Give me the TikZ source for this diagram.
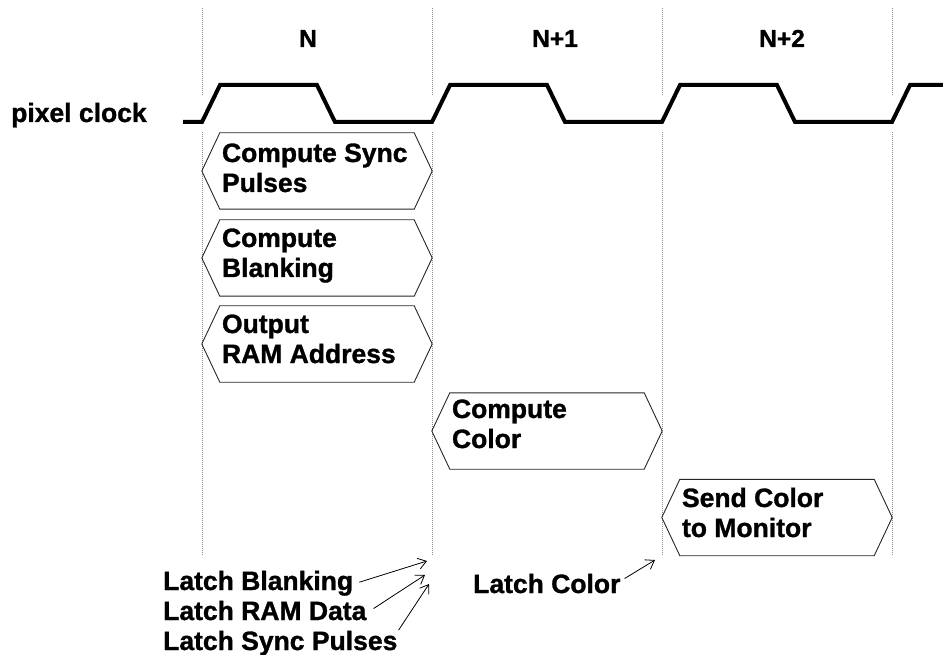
\documentclass[tikz,border=0pt]{standalone}
\usepackage{fontspec}
\setmainfont{Liberation Sans}[BoldFeatures={FakeBold=1.2}]
\usetikzlibrary{arrows.meta}
\begin{document}
\begin{tikzpicture}[x=1pt,y=-1pt,
  txt/.style={font=\fontsize{26.5}{30}\selectfont\bfseries, inner sep=0pt, anchor=base west},
  toplbl/.style={font=\fontsize{24.5}{28}\selectfont\bfseries, inner sep=0pt, anchor=base west},
  boxtext/.style={txt, align=left},
  hexbox/.style={rectangle, minimum width=230pt, minimum height=76pt, inner sep=0pt},
  hexline/.style={draw=black!85, line width=0.9pt, line join=miter},
  grid/.style={draw=black!45, line width=0.9pt, dash pattern=on 1pt off 1pt},
  clock/.style={draw=black, line width=4pt, line join=miter, miter limit=4},
  arr/.style={draw=black, line width=0.8pt, -{Straight Barb[length=8pt,width=11pt]}}]
\useasboundingbox (0,0) rectangle (943,655);
% dotted cycle boundaries
\foreach \x in {202,432,662,892}{
  \draw[grid] (\x,8) -- (\x,95);
  \draw[grid] (\x,132) -- (\x,556);
}
% cycle labels
\node[toplbl] (nN) at (299,47) {N};
\node[toplbl] (nN1) at (532,47) {N+1};
\node[toplbl] (nN2) at (759,47) {N+2};
% clock
\node[txt] (pc) at (11,122) {pixel clock};
\draw[clock] (183,122) -- (202,122) -- (220,85) -- (317,85) -- (335,122) -- (432,122)
  -- (450,85) -- (547,85) -- (565,122) -- (662,122) -- (680,85) -- (777,85)
  -- (795,122) -- (892,122) -- (910,85) -- (943,85);
% boxes
\node[hexbox] (b1) at (317,171) {};
\node[hexbox] (b2) at (317,258) {};
\node[hexbox] (b3) at (317,344) {};
\node[hexbox] (b4) at (547,431) {};
\node[hexbox] (b5) at (777,517.5) {};
\foreach \b in {b1,b2,b3,b4,b5}{
  \draw[hexline] ([xshift=18pt]\b.north west) -- ([xshift=-18pt]\b.north east) -- (\b.east)
    -- ([xshift=-18pt]\b.south east) -- ([xshift=18pt]\b.south west) -- (\b.west) -- cycle;
}
% base anchor of a two-line node = baseline of the last line
\node[boxtext] (t1) at ([xshift=20pt,yshift=-21pt]b1.west) {Compute Sync\\Pulses};
\node[boxtext] (t2) at ([xshift=20pt,yshift=-19pt]b2.west) {Compute\\Blanking};
\node[boxtext] (t3) at ([xshift=20pt,yshift=-19pt]b3.west) {Output\\RAM Address};
\node[boxtext] (t4) at ([xshift=20pt,yshift=-17pt]b4.west) {Compute\\Color};
\node[boxtext] (t5) at ([xshift=20pt,yshift=-19.5pt]b5.west) {Send Color\\to Monitor};
% latch labels
\node[txt] (L1) at (163,590) {Latch Blanking};
\node[txt] (L2) at (163,620) {Latch RAM Data};
\node[txt] (L3) at (163,650) {Latch Sync Pulses};
\node[txt] (LC) at (473,593) {Latch Color};
\coordinate (a1) at (427,561);
\coordinate (a2) at (425,575);
\coordinate (a3) at (429,584);
\coordinate (ac) at (655,560);
\draw[arr] ([xshift=6pt,yshift=1pt]L1.east) -- (a1);
\draw[arr] ([xshift=7pt,yshift=2pt]L2.east) -- (a2);
\draw[arr] ([xshift=1pt,yshift=13pt]L3.east) -- (a3);
\draw[arr] ([xshift=4pt,yshift=5pt]LC.east) -- (ac);
\end{tikzpicture}
\end{document}
